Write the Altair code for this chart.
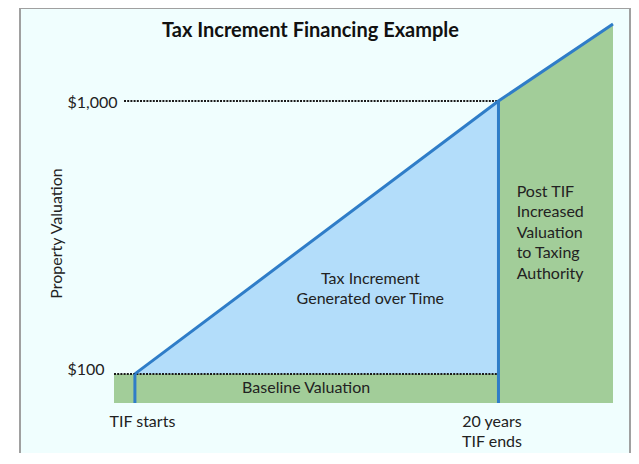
import altair as alt
import pandas as pd

# ---- data (years since TIF start, property valuation in $) ----
line_years = [0, 20, 26.3]
line_values = [100, 1000, 1254]
green_years = [-1.15, 0, 20, 26.3]
green_values = [100, 100, 1000, 1254]
baseline_value = 100
tif_end_value = 1000
floor_value = 4
x_domain = [-1.15, 26.3]
y_domain = [4, 1254]
y_ticks = [100, 1000]
x_ticks = [0, 20]

FONT = "Lato"
GREEN = "#A2CD99"
LIGHTBLUE = "#B3DDFA"
BLUE = "#2F7DC8"
BG = "#F0FEFE"
FS = 16

line_df = pd.DataFrame({"year": line_years, "value": line_values})
green_df = pd.DataFrame({"year": green_years, "value": green_values,
                         "low": [floor_value] * len(green_years)})
blue_df = pd.DataFrame({"year": line_years[:2], "value": line_values[:2],
                        "base": [baseline_value] * 2})
dotted_df = pd.DataFrame({"x1": [-1.15, -0.6], "x2": [20, 20],
                          "value": [baseline_value, tif_end_value]})
vrule_df = pd.DataFrame({"year": x_ticks, "top": [baseline_value, tif_end_value],
                         "bottom": [floor_value] * 2})
notes_df = pd.DataFrame({
    "year": [12.95, 9.42],
    "value": [413, 54],
    "text": ["Tax Increment\nGenerated over Time", "Baseline Valuation"],
})
post_df = pd.DataFrame({"year": [21.0], "value": [700],
                        "text": ["Post TIF\nIncreased\nValuation\nto Taxing\nAuthority"]})

xs = alt.Scale(domain=x_domain, nice=False, zero=False)
ys = alt.Scale(domain=y_domain, nice=False, zero=False)

frame = alt.Chart(pd.DataFrame({"a": [0]})).mark_rect(
    fill=BG, stroke="#A0A0A0", strokeWidth=2
).encode(x=alt.value(-94), x2=alt.value(516), y=alt.value(-16), y2=alt.value(445))

green = alt.Chart(green_df).mark_area(color=GREEN, fill=GREEN, opacity=1).encode(
    x=alt.X("year:Q", scale=xs,
            axis=alt.Axis(values=x_ticks, title=None, domain=False, ticks=False,
                          tickSize=0, grid=False, labelPadding=10, zindex=2,
                          labelExpr="datum.value == 0 ? 'TIF starts' : ['20 years', 'TIF ends']",
                          labelOffset={"condition": {"test": "datum.value == 0", "value": 7}, "value": -7},
                          labelFont=FONT, labelFontSize=FS, labelColor="#222",
                          labelLineHeight=20, labelBaseline="top")),
    y=alt.Y("value:Q", scale=ys,
            axis=alt.Axis(values=y_ticks, title="Property Valuation", domain=False,
                          ticks=False, tickSize=0, grid=False, labelAlign="left",
                          labelPadding=47, zindex=2,
                          labelExpr="'$' + format(datum.value, ',')",
                          labelOffset={"condition": {"test": "datum.value == 100", "value": -4}, "value": 1},
                          labelFont=FONT, labelFontSize=FS, labelColor="#222",
                          titleFont=FONT, titleFontSize=FS, titleFontWeight="normal",
                          titleColor="#222", titleX=-58, titleY=209,
                          titleAlign="center", titleBaseline="middle", titleAngle=-90)),
    y2="low:Q",
)

blue = alt.Chart(blue_df).mark_area(color=LIGHTBLUE, opacity=1).encode(
    x=alt.X("year:Q", scale=xs), y=alt.Y("value:Q", scale=ys), y2="base:Q"
)

dotted = alt.Chart(dotted_df).mark_rule(
    color="#1A1A1A", strokeWidth=2, strokeDash=[2, 1.2]
).encode(x=alt.X("x1:Q", scale=xs), x2="x2:Q", y=alt.Y("value:Q", scale=ys))

vrules = alt.Chart(vrule_df).mark_rule(color=BLUE, strokeWidth=3).encode(
    x=alt.X("year:Q", scale=xs), y=alt.Y("top:Q", scale=ys), y2="bottom:Q"
)

line = alt.Chart(line_df).mark_line(color=BLUE, strokeWidth=3).encode(
    x=alt.X("year:Q", scale=xs), y=alt.Y("value:Q", scale=ys)
)

notes = alt.Chart(notes_df).mark_text(
    font=FONT, fontSize=FS, color="#222", lineBreak="\n", lineHeight=20,
    align="center", baseline="middle"
).encode(x=alt.X("year:Q", scale=xs), y=alt.Y("value:Q", scale=ys), text="text:N")

post = alt.Chart(post_df).mark_text(
    font=FONT, fontSize=FS, color="#222", lineBreak="\n", lineHeight=20.5,
    align="left", baseline="middle"
).encode(x=alt.X("year:Q", scale=xs), y=alt.Y("value:Q", scale=ys), text="text:N")

chart = alt.layer(frame, green, blue, dotted, vrules, line, notes, post).properties(
    width=499, height=379,
    title=alt.TitleParams("Tax Increment Financing Example", font=FONT, fontSize=20,
                          fontWeight="bold", color="#111", anchor="middle",
                          dx=-53, dy=34, offset=0),
    autosize=alt.AutoSizeParams(type="none"),
    padding={"left": 106, "top": 16, "right": 18, "bottom": 50},
    background="white",
).configure_view(stroke=None)

chart.save("out.html", embed_options={"renderer": "svg", "actions": False})
